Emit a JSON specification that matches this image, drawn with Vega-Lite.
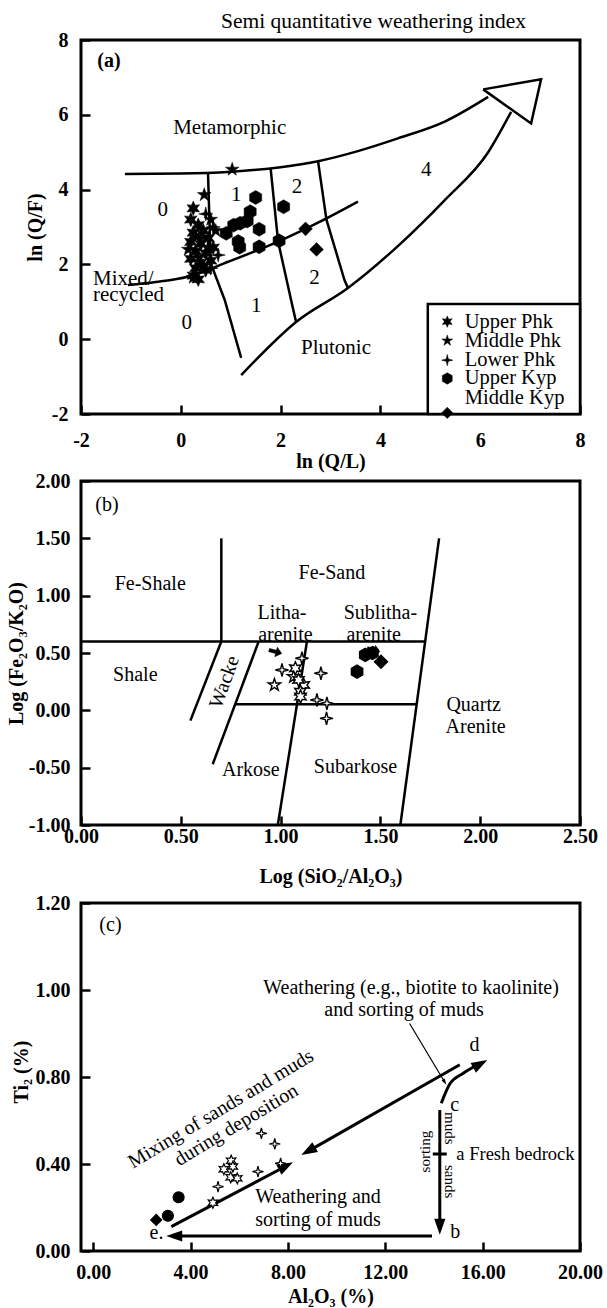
{
  "$schema": "https://vega.github.io/schema/vega-lite/v6.json",
  "background": "white",
  "padding": {"left": 4, "top": 9, "right": 5, "bottom": 5},
  "config": {
    "font": "Liberation Serif",
    "view": {"stroke": "black", "strokeWidth": 3},
    "axis": {"grid": false, "domain": false, "tickSize": -9, "tickWidth": 2.5, "tickColor": "black", "labelFontSize": 20, "labelFontWeight": "bold", "labelColor": "black", "titleFontSize": 20, "titleFontWeight": "bold", "titleColor": "black", "labelFlush": false, "labelOverlap": false, "labelFont": "Liberation Serif", "titleFont": "Liberation Serif"},
    "title": {"font": "Liberation Serif"}
  },
  "datasets": {
    "a_curves": [
      {"id": "top", "o": 1, "x": -1.12, "y": 4.42}, {"id": "top", "o": 2, "x": 0.0, "y": 4.43}, {"id": "top", "o": 3, "x": 1.01, "y": 4.48}, {"id": "top", "o": 4, "x": 2.0, "y": 4.6}, {"id": "top", "o": 5, "x": 2.75, "y": 4.76}, {"id": "top", "o": 6, "x": 3.6, "y": 5.05}, {"id": "top", "o": 7, "x": 4.35, "y": 5.37}, {"id": "top", "o": 8, "x": 5.29, "y": 5.82}, {"id": "top", "o": 9, "x": 6.16, "y": 6.48},
      {"id": "low", "o": 1, "x": 1.21, "y": -0.96}, {"id": "low", "o": 2, "x": 2.31, "y": 0.46}, {"id": "low", "o": 3, "x": 3.35, "y": 1.37}, {"id": "low", "o": 4, "x": 4.35, "y": 2.49}, {"id": "low", "o": 5, "x": 5.29, "y": 3.72}, {"id": "low", "o": 6, "x": 6.16, "y": 5.0}, {"id": "low", "o": 7, "x": 6.62, "y": 6.08},
      {"id": "mid", "o": 1, "x": -1.06, "y": 1.45}, {"id": "mid", "o": 2, "x": -0.5, "y": 1.53}, {"id": "mid", "o": 3, "x": 0.14, "y": 1.67}, {"id": "mid", "o": 4, "x": 0.95, "y": 2.07}, {"id": "mid", "o": 5, "x": 1.95, "y": 2.61}, {"id": "mid", "o": 6, "x": 2.8, "y": 3.15}, {"id": "mid", "o": 7, "x": 3.55, "y": 3.68}
    ],
    "a_lines": [
      {"id": "head", "o": 1, "x": 6.06, "y": 6.68}, {"id": "head", "o": 2, "x": 7.22, "y": 6.95}, {"id": "head", "o": 3, "x": 7.02, "y": 5.77}, {"id": "head", "o": 4, "x": 6.06, "y": 6.68},
      {"id": "z1", "o": 1, "x": 0.545, "y": 4.45}, {"id": "z1", "o": 2, "x": 0.6, "y": 2.03}, {"id": "z1", "o": 3, "x": 0.88, "y": 1.05}, {"id": "z1", "o": 4, "x": 1.21, "y": -0.5},
      {"id": "z2", "o": 1, "x": 1.8, "y": 4.57}, {"id": "z2", "o": 2, "x": 1.95, "y": 2.61}, {"id": "z2", "o": 3, "x": 2.21, "y": 1.05}, {"id": "z2", "o": 4, "x": 2.31, "y": 0.46},
      {"id": "z3", "o": 1, "x": 2.75, "y": 4.76}, {"id": "z3", "o": 2, "x": 2.92, "y": 3.19}, {"id": "z3", "o": 3, "x": 3.28, "y": 1.58}, {"id": "z3", "o": 4, "x": 3.35, "y": 1.37}
    ],
    "a_pts": [
      {"g": "Upper Phk", "x": 0.25, "y": 3.5}, {"g": "Upper Phk", "x": 0.2, "y": 3.2}, {"g": "Upper Phk", "x": 0.35, "y": 3.05}, {"g": "Upper Phk", "x": 0.25, "y": 2.85}, {"g": "Upper Phk", "x": 0.45, "y": 2.9}, {"g": "Upper Phk", "x": 0.2, "y": 2.6}, {"g": "Upper Phk", "x": 0.4, "y": 2.55}, {"g": "Upper Phk", "x": 0.3, "y": 2.35}, {"g": "Upper Phk", "x": 0.5, "y": 2.3}, {"g": "Upper Phk", "x": 0.2, "y": 2.15}, {"g": "Upper Phk", "x": 0.4, "y": 2.05}, {"g": "Upper Phk", "x": 0.6, "y": 2.1}, {"g": "Upper Phk", "x": 0.3, "y": 1.9}, {"g": "Upper Phk", "x": 0.5, "y": 1.85}, {"g": "Upper Phk", "x": 0.25, "y": 1.7}, {"g": "Upper Phk", "x": 0.35, "y": 1.6}, {"g": "Upper Phk", "x": 0.55, "y": 2.7}, {"g": "Upper Phk", "x": 0.65, "y": 2.45},
      {"g": "Middle Phk", "x": 1.03, "y": 4.54}, {"g": "Middle Phk", "x": 0.47, "y": 3.86}, {"g": "Middle Phk", "x": 0.6, "y": 3.2}, {"g": "Middle Phk", "x": 0.3, "y": 2.75}, {"g": "Middle Phk", "x": 0.55, "y": 2.45}, {"g": "Middle Phk", "x": 0.45, "y": 1.95}, {"g": "Middle Phk", "x": 0.25, "y": 1.65}, {"g": "Middle Phk", "x": 0.7, "y": 2.9}, {"g": "Middle Phk", "x": 0.15, "y": 2.4},
      {"g": "Lower Phk", "x": 0.5, "y": 3.35}, {"g": "Lower Phk", "x": 0.65, "y": 3.0}, {"g": "Lower Phk", "x": 0.35, "y": 2.2}, {"g": "Lower Phk", "x": 0.6, "y": 1.9}, {"g": "Lower Phk", "x": 0.75, "y": 2.25}, {"g": "Lower Phk", "x": 0.4, "y": 2.7},
      {"g": "Upper Kyp", "x": 1.5, "y": 3.79}, {"g": "Upper Kyp", "x": 2.06, "y": 3.54}, {"g": "Upper Kyp", "x": 1.39, "y": 3.41}, {"g": "Upper Kyp", "x": 1.06, "y": 3.05}, {"g": "Upper Kyp", "x": 1.19, "y": 3.1}, {"g": "Upper Kyp", "x": 1.33, "y": 3.16}, {"g": "Upper Kyp", "x": 0.91, "y": 2.83}, {"g": "Upper Kyp", "x": 1.57, "y": 2.94}, {"g": "Upper Kyp", "x": 1.15, "y": 2.61}, {"g": "Upper Kyp", "x": 1.18, "y": 2.46}, {"g": "Upper Kyp", "x": 1.57, "y": 2.47}, {"g": "Upper Kyp", "x": 1.97, "y": 2.63},
      {"g": "Middle Kyp", "x": 2.5, "y": 2.95}, {"g": "Middle Kyp", "x": 2.72, "y": 2.4}
    ],
    "a_text": [
      {"t": "Metamorphic", "x": 0.98, "y": 5.64}, {"t": "0", "x": -0.36, "y": 3.45}, {"t": "1", "x": 1.11, "y": 3.86}, {"t": "2", "x": 2.33, "y": 4.06}, {"t": "4", "x": 4.92, "y": 4.52}, {"t": "0", "x": 0.12, "y": 0.43}, {"t": "1", "x": 1.51, "y": 0.9}, {"t": "2", "x": 2.68, "y": 1.63}, {"t": "Plutonic", "x": 3.11, "y": -0.24}
    ],
    "a_text_left": [
      {"t": "Mixed/", "x": -1.76, "y": 1.6}, {"t": "recycled", "x": -1.76, "y": 1.18}
    ],
    "a_text_bold": [{"t": "(a)", "x": -1.44, "y": 7.45}],
    "a_legbox": [{"x": 4.95, "x2": 8, "y": -2, "y2": 0.94}],
    "a_legsym": [
      {"g": "Upper Phk", "x": 5.34, "y": 0.47}, {"g": "Middle Phk", "x": 5.34, "y": -0.04}, {"g": "Lower Phk", "x": 5.34, "y": -0.56}, {"g": "Upper Kyp", "x": 5.34, "y": -1.05}, {"g": "Middle Kyp", "x": 5.34, "y": -1.97}
    ],
    "a_legtxt": [
      {"t": "Upper Phk", "x": 5.69, "y": 0.47}, {"t": "Middle Phk", "x": 5.69, "y": -0.04}, {"t": "Lower Phk", "x": 5.69, "y": -0.56}, {"t": "Upper Kyp", "x": 5.69, "y": -1.05}, {"t": "Middle Kyp", "x": 5.69, "y": -1.58}
    ],
    "b_lines": [
      {"id": "h1", "o": 1, "x": 0, "y": 0.6}, {"id": "h1", "o": 2, "x": 1.725, "y": 0.6},
      {"id": "v1", "o": 1, "x": 0.703, "y": 1.5}, {"id": "v1", "o": 2, "x": 0.703, "y": 0.6},
      {"id": "r", "o": 1, "x": 1.794, "y": 1.5}, {"id": "r", "o": 2, "x": 1.6, "y": -1.0},
      {"id": "h2", "o": 1, "x": 0.773, "y": 0.053}, {"id": "h2", "o": 2, "x": 1.683, "y": 0.053},
      {"id": "w1", "o": 1, "x": 0.703, "y": 0.6}, {"id": "w1", "o": 2, "x": 0.548, "y": -0.09},
      {"id": "w2", "o": 1, "x": 0.89, "y": 0.6}, {"id": "w2", "o": 2, "x": 0.66, "y": -0.47},
      {"id": "m", "o": 1, "x": 1.132, "y": 0.6}, {"id": "m", "o": 2, "x": 0.986, "y": -1.0}
    ],
    "b_pts": [
      {"g": "Upper Kyp", "x": 1.424, "y": 0.483}, {"g": "Upper Kyp", "x": 1.46, "y": 0.5}, {"g": "Upper Kyp", "x": 1.383, "y": 0.337},
      {"g": "Middle Kyp", "x": 1.503, "y": 0.424},
      {"g": "Lower Phk", "x": 1.107, "y": 0.454}, {"g": "Lower Phk", "x": 1.007, "y": 0.352}, {"g": "Lower Phk", "x": 1.202, "y": 0.323}, {"g": "Lower Phk", "x": 1.182, "y": 0.09}, {"g": "Lower Phk", "x": 1.232, "y": 0.061}, {"g": "Lower Phk", "x": 1.23, "y": -0.07},
      {"g": "Middle Phk", "x": 0.969, "y": 0.221}, {"g": "Middle Phk", "x": 1.065, "y": 0.293},
      {"g": "Upper Phk", "x": 1.074, "y": 0.367}, {"g": "Upper Phk", "x": 1.116, "y": 0.221}, {"g": "Upper Phk", "x": 1.099, "y": 0.163}, {"g": "Upper Phk", "x": 1.09, "y": 0.265}, {"g": "Upper Phk", "x": 1.1, "y": 0.12}
    ],
    "b_arrows": [{"x": 0.974, "y": 0.511}, {"x": 1.466, "y": 0.526}],
    "b_text": [
      {"t": "(b)", "x": 0.13, "y": 1.79}, {"t": "Fe-Shale", "x": 0.347, "y": 1.1}, {"t": "Fe-Sand", "x": 1.257, "y": 1.195}, {"t": "Litha-", "x": 1.007, "y": 0.846}, {"t": "arenite", "x": 1.024, "y": 0.657}, {"t": "Sublitha-", "x": 1.5, "y": 0.846}, {"t": "arenite", "x": 1.466, "y": 0.657}, {"t": "Shale", "x": 0.272, "y": 0.308}, {"t": "Arkose", "x": 0.851, "y": -0.52}, {"t": "Subarkose", "x": 1.375, "y": -0.49}, {"t": "Quartz", "x": 1.967, "y": 0.047}, {"t": "Arenite", "x": 1.977, "y": -0.143}
    ],
    "b_text_rot": [{"t": "Wacke", "x": 0.719, "y": 0.247}],
    "c_frame": [{"x": -0.5, "x2": 20, "y": 0, "y2": 1.2}],
    "c_thick": [
      {"id": "ea", "o": 1, "x": 3.21, "y": 0.112}, {"id": "ea", "o": 2, "x": 7.85, "y": 0.386},
      {"id": "da", "o": 1, "x": 15.06, "y": 0.828}, {"id": "da", "o": 2, "x": 8.91, "y": 0.464},
      {"id": "be", "o": 1, "x": 13.92, "y": 0.069}, {"id": "be", "o": 2, "x": 3.41, "y": 0.069},
      {"id": "cb", "o": 1, "x": 14.24, "y": 0.648}, {"id": "cb", "o": 2, "x": 14.24, "y": 0.121}
    ],
    "c_curve": [
      {"id": "cd", "o": 1, "x": 14.3, "y": 0.679}, {"id": "cd", "o": 2, "x": 14.65, "y": 0.768}, {"id": "cd", "o": 3, "x": 15.19, "y": 0.808}, {"id": "cd", "o": 4, "x": 15.75, "y": 0.827}
    ],
    "c_thin": [
      {"id": "tl", "o": 1, "x": 13.0, "y": 0.923}, {"id": "tl", "o": 2, "x": 14.45, "y": 0.775}
    ],
    "c_heads": [
      {"id": "h1", "x": 8.21, "y": 0.408}, {"id": "h2", "x": 8.55, "y": 0.441}, {"id": "h3", "x": 3.0, "y": 0.069}, {"id": "h4", "x": 14.24, "y": 0.075}, {"id": "h5", "x": 16.19, "y": 0.839}, {"id": "h6", "x": 14.51, "y": 0.764}
    ],
    "c_cross": [{"x": 14.24, "y": 0.446}],
    "c_pts": [
      {"g": "Upper Kyp", "x": 3.51, "y": 0.247}, {"g": "Upper Kyp", "x": 3.07, "y": 0.162},
      {"g": "Middle Kyp", "x": 2.59, "y": 0.143},
      {"g": "Upper Phk", "x": 5.67, "y": 0.415}, {"g": "Upper Phk", "x": 5.74, "y": 0.388}, {"g": "Upper Phk", "x": 5.37, "y": 0.376}, {"g": "Upper Phk", "x": 5.65, "y": 0.339}, {"g": "Upper Phk", "x": 5.92, "y": 0.334}, {"g": "Upper Phk", "x": 4.92, "y": 0.222},
      {"g": "Lower Phk", "x": 5.13, "y": 0.296}, {"g": "Lower Phk", "x": 6.77, "y": 0.365}, {"g": "Lower Phk", "x": 7.7, "y": 0.403}, {"g": "Lower Phk", "x": 7.46, "y": 0.492}, {"g": "Lower Phk", "x": 6.91, "y": 0.541}
    ],
    "c_text": [
      {"t": "(c)", "x": 0.71, "y": 1.149}, {"t": "Weathering (e.g., biotite to kaolinite)", "x": 13.06, "y": 1.005}, {"t": "and sorting of muds", "x": 12.77, "y": 0.954}, {"t": "d", "x": 15.67, "y": 0.874}, {"t": "c", "x": 14.85, "y": 0.671}, {"t": "b", "x": 14.88, "y": 0.089}, {"t": "e.", "x": 2.6, "y": 0.084}, {"t": "Weathering and", "x": 9.24, "y": 0.25}, {"t": "sorting of muds", "x": 9.24, "y": 0.143}
    ],
    "c_text_left": [{"t": "a Fresh bedrock", "x": 14.92, "y": 0.446}],
    "c_text_rot": [{"t": "Mixing of sands and muds", "x": 5.25, "y": 0.653}, {"t": "during deposition", "x": 5.88, "y": 0.579}],
    "c_text_down": [{"t": "muds", "x": 14.65, "y": 0.564}, {"t": "sands", "x": 14.65, "y": 0.319}],
    "c_text_up": [{"t": "sorting", "x": 13.62, "y": 0.457}]
  },
  "resolve": {"scale": {"shape": "independent", "size": "independent", "fill": "independent"}},
  "spacing": 67,
  "bounds": "flush",
  "vconcat": [
    {
      "width": 499,
      "height": 374,
      "title": {"text": "Semi quantitative weathering index", "fontSize": 21.5, "fontWeight": "normal", "color": "black", "anchor": "middle", "dx": 43, "offset": -2},
      "encoding": {
        "x": {"field": "x", "type": "quantitative", "scale": {"domain": [-2, 8], "nice": false, "zero": false}, "axis": {"values": [-2, 0, 2, 4, 6, 8], "format": "d", "labelExpr": "replace(datum.label, '\u2212', '-')", "title": "ln (Q/L)", "labelPadding": 25, "titlePadding": 1}},
        "y": {"field": "y", "type": "quantitative", "scale": {"domain": [-2, 8], "nice": false, "zero": false}, "axis": {"values": [-2, 0, 2, 4, 6, 8], "format": "d", "labelExpr": "replace(datum.label, '\u2212', '-')", "title": "ln (Q/F)", "labelPadding": 22, "titlePadding": 6}}
      },
      "layer": [
        {"data": {"name": "a_curves"}, "mark": {"type": "line", "color": "black", "strokeWidth": 2.5, "interpolate": "monotone"}, "encoding": {"detail": {"field": "id"}, "order": {"field": "o", "type": "quantitative"}}},
        {"data": {"name": "a_lines"}, "mark": {"type": "line", "color": "black", "strokeWidth": 2.5, "strokeJoin": "miter"}, "encoding": {"detail": {"field": "id"}, "order": {"field": "o", "type": "quantitative"}}},
        {"data": {"name": "a_pts"}, "mark": {"type": "point", "filled": true, "opacity": 1, "fill": "black", "stroke": "black", "strokeWidth": 0.5},
         "encoding": {
           "shape": {"field": "g", "type": "nominal", "scale": {"domain": ["Upper Phk", "Middle Phk", "Lower Phk", "Upper Kyp", "Middle Kyp"], "range": ["M0,-1L0.25,-0.433L0.866,-0.5L0.5,0L0.866,0.5L0.25,0.433L0,1L-0.25,0.433L-0.866,0.5L-0.5,0L-0.866,-0.5L-0.25,-0.433Z", "M0,-1L0.2245,-0.309L0.951,-0.309L0.363,0.118L0.588,0.809L0,0.382L-0.588,0.809L-0.363,0.118L-0.951,-0.309L-0.2245,-0.309Z", "M0,-1L0.2,-0.2L1,0L0.2,0.2L0,1L-0.2,0.2L-1,0L-0.2,-0.2Z", "M0,-1L0.866,-0.5L0.866,0.5L0,1L-0.866,0.5L-0.866,-0.5Z", "diamond"]}, "legend": null},
           "size": {"field": "g", "type": "ordinal", "scale": {"domain": ["Upper Phk", "Middle Phk", "Lower Phk", "Upper Kyp", "Middle Kyp"], "range": [210, 190, 190, 100, 110]}, "legend": null}
         }},
        {"data": {"name": "a_text"}, "mark": {"type": "text", "fontSize": 21, "color": "black", "align": "center", "baseline": "middle"}, "encoding": {"text": {"field": "t"}}},
        {"data": {"name": "a_text_left"}, "mark": {"type": "text", "fontSize": 21, "color": "black", "align": "left", "baseline": "middle"}, "encoding": {"text": {"field": "t"}}},
        {"data": {"name": "a_text_bold"}, "mark": {"type": "text", "fontSize": 20, "fontWeight": "bold", "color": "black", "align": "center", "baseline": "middle"}, "encoding": {"text": {"field": "t"}}},
        {"data": {"name": "a_legbox"}, "mark": {"type": "rect", "fill": "white", "stroke": "black", "strokeWidth": 2.5}, "encoding": {"x2": {"field": "x2"}, "y2": {"field": "y2"}}},
        {"data": {"name": "a_legsym"}, "mark": {"type": "point", "filled": true, "opacity": 1, "fill": "black", "stroke": "black", "strokeWidth": 0.5, "size": 130},
         "encoding": {"shape": {"field": "g", "type": "nominal", "legend": null}}},
        {"data": {"name": "a_legtxt"}, "mark": {"type": "text", "fontSize": 20.5, "color": "black", "align": "left", "baseline": "middle"}, "encoding": {"text": {"field": "t"}}}
      ]
    },
    {
      "width": 499,
      "height": 344,
      "encoding": {
        "x": {"field": "x", "type": "quantitative", "scale": {"domain": [0, 2.5], "nice": false, "zero": false}, "axis": {"values": [0, 0.5, 1, 1.5, 2, 2.5], "format": ".2f", "title": "Log (SiO₂/Al₂O₃)", "labelPadding": 10, "titlePadding": 20}},
        "y": {"field": "y", "type": "quantitative", "scale": {"domain": [-1, 2], "nice": false, "zero": false}, "axis": {"values": [-1, -0.5, 0, 0.5, 1, 1.5, 2], "format": ".2f", "labelExpr": "replace(datum.label, '\u2212', '-')", "title": "Log (Fe₂O₃/K₂O)", "labelPadding": 20, "titlePadding": 2}}
      },
      "layer": [
        {"data": {"name": "b_lines"}, "mark": {"type": "line", "color": "black", "strokeWidth": 2.5}, "encoding": {"detail": {"field": "id"}, "order": {"field": "o", "type": "quantitative"}}},
        {"data": {"name": "b_pts"}, "mark": {"type": "point", "filled": true, "opacity": 1, "stroke": "black", "strokeWidth": 1.4},
         "encoding": {
           "shape": {"field": "g", "type": "nominal", "scale": {"domain": ["Upper Phk", "Middle Phk", "Lower Phk", "Upper Kyp", "Middle Kyp"], "range": ["M0,-1L0.25,-0.433L0.866,-0.5L0.5,0L0.866,0.5L0.25,0.433L0,1L-0.25,0.433L-0.866,0.5L-0.5,0L-0.866,-0.5L-0.25,-0.433Z", "M0,-1L0.2245,-0.309L0.951,-0.309L0.363,0.118L0.588,0.809L0,0.382L-0.588,0.809L-0.363,0.118L-0.951,-0.309L-0.2245,-0.309Z", "M0,-1L0.2,-0.2L1,0L0.2,0.2L0,1L-0.2,0.2L-1,0L-0.2,-0.2Z", "M0,-1L0.866,-0.5L0.866,0.5L0,1L-0.866,0.5L-0.866,-0.5Z", "diamond"]}, "legend": null},
           "size": {"field": "g", "type": "ordinal", "scale": {"domain": ["Upper Phk", "Middle Phk", "Lower Phk", "Upper Kyp", "Middle Kyp"], "range": [170, 170, 180, 130, 120]}, "legend": null},
           "fill": {"field": "g", "type": "nominal", "scale": {"domain": ["Upper Phk", "Middle Phk", "Lower Phk", "Upper Kyp", "Middle Kyp"], "range": ["white", "white", "white", "black", "black"]}, "legend": null}
         }},
        {"data": {"name": "b_arrows"}, "mark": {"type": "point", "shape": "M-1,-0.25L0.1,-0.25L0.1,-0.75L1,0L0.1,0.75L0.1,0.25L-1,0.25Z", "filled": true, "opacity": 1, "fill": "black", "stroke": "black", "strokeWidth": 0.5, "size": 170, "angle": 15}},
        {"data": {"name": "b_text"}, "mark": {"type": "text", "fontSize": 20, "color": "black", "align": "center", "baseline": "middle"}, "encoding": {"text": {"field": "t"}}},
        {"data": {"name": "b_text_rot"}, "mark": {"type": "text", "fontSize": 20, "color": "black", "align": "center", "baseline": "middle", "angle": 290}, "encoding": {"text": {"field": "t"}}}
      ]
    },
    {
      "width": 499,
      "height": 359,
      "view": {"stroke": null},
      "encoding": {
        "x": {"field": "x", "type": "quantitative", "scale": {"domain": [-0.5, 20], "nice": false, "zero": false}, "axis": {"values": [0, 4, 8, 12, 16, 20], "format": ".2f", "title": "Al₂O₃ (%)", "labelPadding": 20, "titlePadding": 4}},
        "y": {"field": "y", "type": "quantitative", "scale": {"domain": [0, 0.8, 1.2, 1.2253], "range": [359, 185, 11, 0], "nice": false, "zero": false}, "axis": {"values": [0, 0.4, 0.8, 1.0, 1.2], "format": ".2f", "title": "Ti₂ (%)", "labelPadding": 20, "titlePadding": 4}}
      },
      "layer": [
        {"data": {"name": "c_frame"}, "mark": {"type": "rect", "fill": null, "fillOpacity": 0, "stroke": "black", "strokeWidth": 3}, "encoding": {"x2": {"field": "x2"}, "y2": {"field": "y2"}}},
        {"data": {"name": "c_thick"}, "mark": {"type": "line", "color": "black", "strokeWidth": 3}, "encoding": {"detail": {"field": "id"}, "order": {"field": "o", "type": "quantitative"}}},
        {"data": {"name": "c_curve"}, "mark": {"type": "line", "color": "black", "strokeWidth": 3, "interpolate": "monotone"}, "encoding": {"detail": {"field": "id"}, "order": {"field": "o", "type": "quantitative"}}},
        {"data": {"name": "c_thin"}, "mark": {"type": "line", "color": "black", "strokeWidth": 1.2}, "encoding": {"detail": {"field": "id"}, "order": {"field": "o", "type": "quantitative"}}},
        {"data": {"name": "c_heads"}, "transform": [{"filter": "datum.id == 'h1'"}], "mark": {"type": "point", "shape": "M0,0L-2,-0.7L-2,0.7Z", "filled": true, "opacity": 1, "fill": "black", "size": 256, "angle": 332}},
        {"data": {"name": "c_heads"}, "transform": [{"filter": "datum.id == 'h2'"}], "mark": {"type": "point", "shape": "M0,0L-2,-0.7L-2,0.7Z", "filled": true, "opacity": 1, "fill": "black", "size": 256, "angle": 150}},
        {"data": {"name": "c_heads"}, "transform": [{"filter": "datum.id == 'h3'"}], "mark": {"type": "point", "shape": "M0,0L-2,-0.7L-2,0.7Z", "filled": true, "opacity": 1, "fill": "black", "size": 256, "angle": 180}},
        {"data": {"name": "c_heads"}, "transform": [{"filter": "datum.id == 'h4'"}], "mark": {"type": "point", "shape": "M0,0L-2,-0.7L-2,0.7Z", "filled": true, "opacity": 1, "fill": "black", "size": 256, "angle": 90}},
        {"data": {"name": "c_heads"}, "transform": [{"filter": "datum.id == 'h5'"}], "mark": {"type": "point", "shape": "M0,0L-2,-0.7L-2,0.7Z", "filled": true, "opacity": 1, "fill": "black", "size": 256, "angle": 331}},
        {"data": {"name": "c_heads"}, "transform": [{"filter": "datum.id == 'h6'"}], "mark": {"type": "point", "shape": "M0,0L-2,-0.6L-2,0.6Z", "filled": true, "opacity": 1, "fill": "black", "size": 40, "angle": 59}},
        {"data": {"name": "c_cross"}, "mark": {"type": "point", "shape": "M-1,0L1,0", "filled": false, "opacity": 1, "stroke": "black", "strokeWidth": 3, "size": 196}},
        {"data": {"name": "c_pts"}, "mark": {"type": "point", "filled": true, "opacity": 1, "stroke": "black", "strokeWidth": 1.2},
         "encoding": {
           "shape": {"field": "g", "type": "nominal", "scale": {"domain": ["Upper Phk", "Middle Phk", "Lower Phk", "Upper Kyp", "Middle Kyp"], "range": ["M0,-1L0.25,-0.433L0.866,-0.5L0.5,0L0.866,0.5L0.25,0.433L0,1L-0.25,0.433L-0.866,0.5L-0.5,0L-0.866,-0.5L-0.25,-0.433Z", "M0,-1L0.2245,-0.309L0.951,-0.309L0.363,0.118L0.588,0.809L0,0.382L-0.588,0.809L-0.363,0.118L-0.951,-0.309L-0.2245,-0.309Z", "M0,-1L0.2,-0.2L1,0L0.2,0.2L0,1L-0.2,0.2L-1,0L-0.2,-0.2Z", "circle", "diamond"]}, "legend": null},
           "size": {"field": "g", "type": "ordinal", "scale": {"domain": ["Upper Phk", "Middle Phk", "Lower Phk", "Upper Kyp", "Middle Kyp"], "range": [120, 120, 110, 64, 64]}, "legend": null},
           "fill": {"field": "g", "type": "nominal", "scale": {"domain": ["Upper Phk", "Middle Phk", "Lower Phk", "Upper Kyp", "Middle Kyp"], "range": ["white", "white", "white", "black", "black"]}, "legend": null}
         }},
        {"data": {"name": "c_text"}, "mark": {"type": "text", "fontSize": 20, "color": "black", "align": "center", "baseline": "middle"}, "encoding": {"text": {"field": "t"}}},
        {"data": {"name": "c_text_left"}, "mark": {"type": "text", "fontSize": 18.5, "color": "black", "align": "left", "baseline": "middle"}, "encoding": {"text": {"field": "t"}}},
        {"data": {"name": "c_text_rot"}, "mark": {"type": "text", "fontSize": 20, "color": "black", "align": "center", "baseline": "middle", "angle": 329}, "encoding": {"text": {"field": "t"}}},
        {"data": {"name": "c_text_down"}, "mark": {"type": "text", "fontSize": 15, "color": "black", "align": "center", "baseline": "middle", "angle": 90}, "encoding": {"text": {"field": "t"}}},
        {"data": {"name": "c_text_up"}, "mark": {"type": "text", "fontSize": 15, "color": "black", "align": "center", "baseline": "middle", "angle": 270}, "encoding": {"text": {"field": "t"}}}
      ]
    }
  ]
}
